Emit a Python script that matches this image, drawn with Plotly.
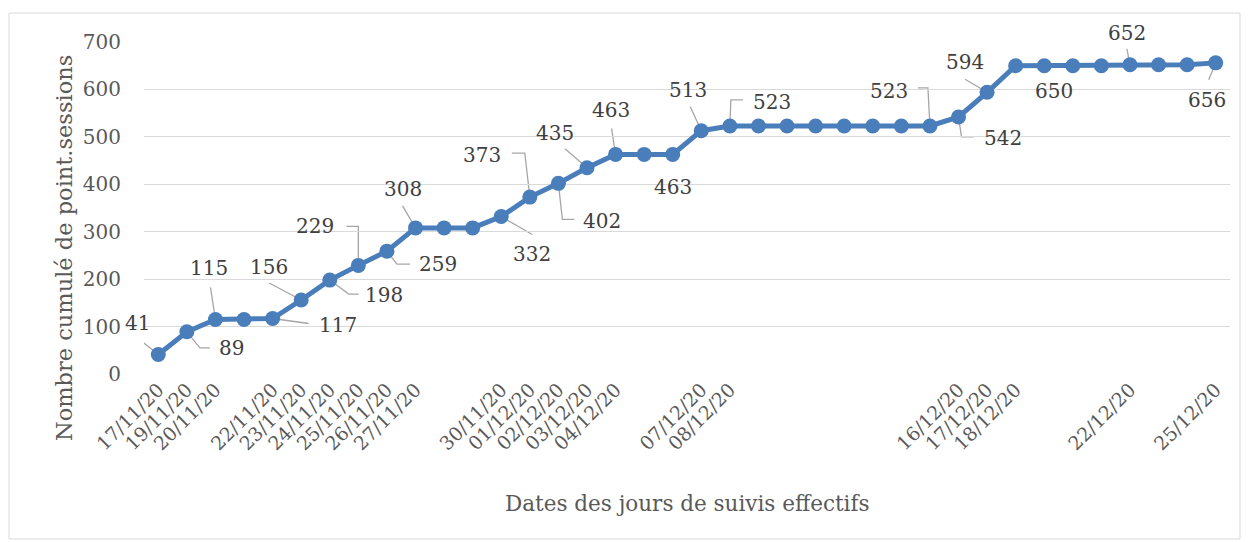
import plotly.graph_objects as go

dates = ["17/11/20", "19/11/20", "20/11/20", "21/11/20", "22/11/20", "23/11/20", "24/11/20",
         "25/11/20", "26/11/20", "27/11/20", "28/11/20", "29/11/20", "30/11/20", "01/12/20",
         "02/12/20", "03/12/20", "04/12/20", "05/12/20", "06/12/20", "07/12/20", "08/12/20",
         "09/12/20", "10/12/20", "11/12/20", "12/12/20", "13/12/20", "14/12/20", "15/12/20",
         "16/12/20", "17/12/20", "18/12/20", "19/12/20", "20/12/20", "21/12/20", "22/12/20",
         "23/12/20", "24/12/20", "25/12/20"]
values = [41, 89, 115, 115, 117, 156, 198, 229, 259, 308, 308, 308, 332, 373, 402, 435, 463,
          463, 463, 513, 523, 523, 523, 523, 523, 523, 523, 523, 542, 594, 650, 650, 650, 650,
          652, 652, 652, 656]
tick_dates = ["17/11/20", "19/11/20", "20/11/20", "22/11/20", "23/11/20", "24/11/20",
              "25/11/20", "26/11/20", "27/11/20", "30/11/20", "01/12/20", "02/12/20",
              "03/12/20", "04/12/20", "07/12/20", "08/12/20", "16/12/20", "17/12/20",
              "18/12/20", "22/12/20", "25/12/20"]
labelled_dates = ["17/11/20", "19/11/20", "20/11/20", "22/11/20", "23/11/20", "24/11/20",
                  "25/11/20", "26/11/20", "27/11/20", "30/11/20", "01/12/20", "02/12/20",
                  "03/12/20", "04/12/20", "06/12/20", "07/12/20", "08/12/20", "15/12/20",
                  "16/12/20", "17/12/20", "18/12/20", "22/12/20", "25/12/20"]

# label placement style (pixel offsets from the point, screen-down y) and leader paths
label_style = {
    "17/11/20": ((-21, -32), [(-20, -16), (0, 0)]),
    "19/11/20": ((45, 16), [(0, 0), (13, 16), (23, 16)]),
    "20/11/20": ((-6, -51), [(-5, -32), (0, 0)]),
    "22/11/20": ((65, 6), [(36, 5), (0, 0)]),
    "23/11/20": ((-32, -33), [(-32, -17), (0, 0)]),
    "24/11/20": ((54, 15), [(0, 0), (19, 14), (29, 14)]),
    "25/11/20": ((-43, -39), [(-12, -39), (0, -39), (0, 0)]),
    "26/11/20": ((51, 13), [(0, 0), (10, 13), (23, 13)]),
    "27/11/20": ((-13, -39), [(-13, -22), (0, 0)]),
    "30/11/20": ((31, 37), [(31, 18), (0, 0)]),
    "01/12/20": ((-48, -42), [(-18, -44), (-5, -44), (0, 0)]),
    "02/12/20": ((44, 38), [(0, 0), (4, 36), (16, 36)]),
    "03/12/20": ((-32, -35), [(-22, -19), (0, 0)]),
    "04/12/20": ((-5, -44), [(-4, -26), (0, 0)]),
    "06/12/20": ((0, 33), None),
    "07/12/20": ((-13, -41), [(-11, -24), (0, 0)]),
    "08/12/20": ((42, -24), [(0, 0), (1, -26), (13, -26)]),
    "15/12/20": ((-41, -35), [(-12, -38), (-2, -38), (0, 0)]),
    "16/12/20": ((44, 21), [(0, 0), (3, 20), (15, 20)]),
    "17/12/20": ((-22, -30), [(-22, -13), (0, 0)]),
    "18/12/20": ((38, 25), None),
    "22/12/20": ((-3, -32), [(-3, -16), (0, 0)]),
    "25/12/20": ((-9, 37), [(-7, 17), (0, 0)]),
}

FONT = "DejaVu Serif"
BLUE = "#4a7ebb"

fig = go.Figure()
fig.add_trace(go.Scatter(
    x=dates, y=values, mode="lines+markers",
    line=dict(color=BLUE, width=5),
    marker=dict(color=BLUE, size=15),
    showlegend=False, cliponaxis=False,
))

annotations = []
shapes = []
for d in labelled_dates:
    i = dates.index(d)
    v = values[i]
    (ax, ay), leader = label_style[d]
    annotations.append(dict(
        x=i, y=v, xref="x", yref="y", text=str(v), showarrow=False,
        xshift=ax, yshift=-ay, font=dict(family=FONT, size=20, color="#404040"),
    ))
    if leader:
        path = "M " + " L ".join(f"{px},{-py}" for px, py in leader)
        shapes.append(dict(
            type="path", path=path, xref="x", yref="y",
            xsizemode="pixel", ysizemode="pixel", xanchor=i, yanchor=v,
            line=dict(color="#a6a6a6", width=1.3), layer="below",
        ))

# outer chart border
shapes.append(dict(type="rect", xref="paper", yref="paper",
                   x0=-0.1243, x1=1.0092, y0=-0.497, y1=1.0873,
                   line=dict(color="#d9d9d9", width=1), layer="below"))

annotations.append(dict(
    text="Nombre cumulé de point.sessions", xref="paper", yref="paper",
    x=-0.0737, y=0.3795, xanchor="center", yanchor="middle", textangle=-90, showarrow=False,
    font=dict(family=FONT, size=22.5, color="#595959"),
))
annotations.append(dict(
    text="Dates des jours de suivis effectifs", xref="paper", yref="paper",
    x=0.5, y=-0.3886, xanchor="center", yanchor="middle", showarrow=False,
    font=dict(family=FONT, size=21.5, color="#595959"),
))

fig.update_layout(
    width=1242, height=534,
    margin=dict(l=136, r=20, t=34, b=168),
    paper_bgcolor="white", plot_bgcolor="white",
    annotations=annotations, shapes=shapes,
    xaxis=dict(
        type="category", categoryorder="array", categoryarray=dates,
        range=[-0.5, len(dates) - 0.5],
        tickmode="array", tickvals=tick_dates, ticktext=tick_dates,
        tickangle=-45, showgrid=False, zeroline=False, showline=False, ticks="",
        tickfont=dict(family=FONT, size=19, color="#595959"),
    ),
    yaxis=dict(
        range=[0, 700], dtick=100, showgrid=True, gridcolor="#d9d9d9", gridwidth=1,
        zeroline=False, showline=False, ticks="", ticklabelstandoff=22,
        tickfont=dict(family=FONT, size=20, color="#595959"),
    ),
)

fig.write_html("out.html")
